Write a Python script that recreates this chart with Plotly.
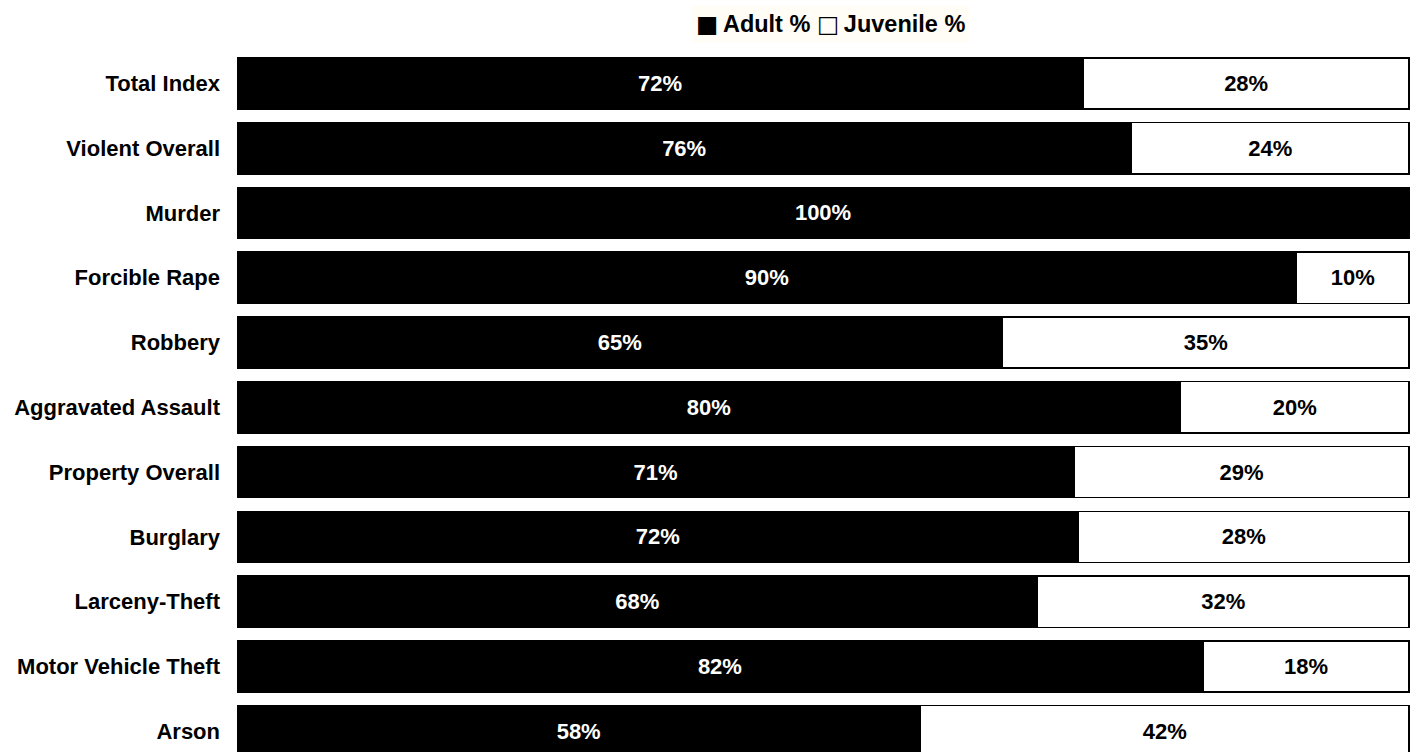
import plotly.graph_objects as go

categories = ["Total Index", "Violent Overall", "Murder", "Forcible Rape", "Robbery",
              "Aggravated Assault", "Property Overall", "Burglary", "Larceny-Theft",
              "Motor Vehicle Theft", "Arson"]
adult_pct = [72.2, 76.3, 100.0, 90.4, 65.3, 80.5, 71.4, 71.8, 68.3, 82.4, 58.3]
juvenile_pct = [27.8, 23.7, 0.0, 9.6, 34.7, 19.5, 28.6, 28.2, 31.7, 17.6, 41.7]
series_names = ["Adult %", "Juvenile %"]

ypos = list(range(len(categories)))
font = "Liberation Sans, Arial, sans-serif"
FS = 22

def lbl(vals):
    return [f"<b>{round(v)}%</b>" if v > 0 else "" for v in vals]

fig = go.Figure()
fig.add_trace(go.Bar(
    name=series_names[0], y=ypos, x=adult_pct, orientation="h",
    marker=dict(color="black", line=dict(color="black", width=1.5)),
    text=lbl(adult_pct), textposition="inside", insidetextanchor="middle",
    textfont=dict(color="white", size=FS, family=font), width=0.79,
    textangle=0, hoverinfo="skip",
))
fig.add_trace(go.Bar(
    name=series_names[1], y=ypos, x=juvenile_pct, orientation="h",
    marker=dict(color="white", line=dict(color="black", width=1.5)),
    text=lbl(juvenile_pct), textposition="inside", insidetextanchor="middle",
    textfont=dict(color="black", size=FS, family=font), width=0.79,
    textangle=0, hoverinfo="skip",
))

sq = '<span style="font-family:DejaVu Sans;font-weight:normal">{}\u2009</span>'
fig.add_annotation(
    text=sq.format("\u25A0") + f"<b>{series_names[0]} </b>" + sq.format("\u25A1") + f"<b>{series_names[1]}</b>",
    xref="paper", yref="paper", x=0.5047, y=1.0385, xanchor="center", yanchor="middle",
    showarrow=False, bgcolor="#FFFDF6", borderpad=4,
    font=dict(size=23.5, family=font, color="black"),
)

fig.update_layout(
    barmode="stack",
    width=1419, height=752,
    margin=dict(l=237, r=7, t=51, b=0),
    paper_bgcolor="white", plot_bgcolor="white",
    font=dict(family=font, size=FS, color="black"),
    uniformtext=dict(minsize=FS, mode="show"),
    showlegend=False,
    xaxis=dict(range=[0, 100.25], visible=False, fixedrange=True),
    yaxis=dict(range=[10.32, -0.5], tickvals=ypos, ticktext=[f"<b>{c}</b>" for c in categories],
               showgrid=False, zeroline=False, showline=False, ticks="", ticklen=0,
               ticklabelstandoff=16, fixedrange=True,
               tickfont=dict(size=FS, family=font, color="black")),
)
fig.write_html("out.html", config={"displayModeBar": False},
               post_script="document.body.style.margin='0';document.body.style.overflow='hidden';")
